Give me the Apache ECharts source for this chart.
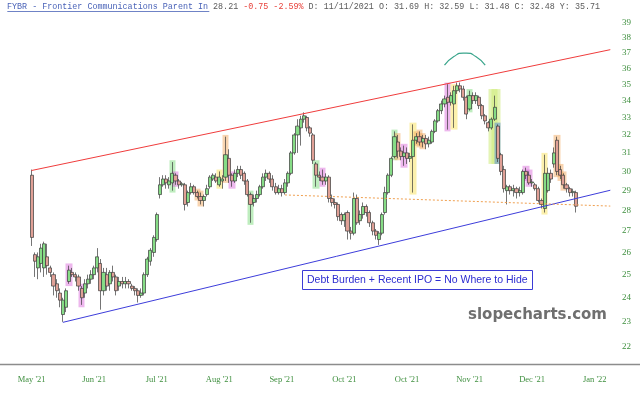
<!DOCTYPE html>
<html><head><meta charset="utf-8">
<script src="https://cdn.jsdelivr.net/npm/echarts@6/dist/echarts.min.js"></script>
<style>html,body{margin:0;padding:0;background:#fff}#c{width:640px;height:395px}</style>
</head><body><div id="c"></div>
<script>
// ---- data ----
const slotCount = 187; // trading-day slots on the axis (175 with data)
const xTickLabels = ["May '21","Jun '21","Jul '21","Aug '21","Sep '21","Oct '21","Oct '21","Nov '21","Dec '21","Jan '22"];
const yTickValues = [22,23,24,25,26,27,28,29,30,31,32,33,34,35,36,37,38,39];

const opens = [29.8,25.9,25.3,25.5,25.3,25.8,25.3,25.0,24.6,24.2,
23.3,23.6,24.7,25.1,25.0,24.9,24.4,24.2,24.6,24.8,
25.0,25.3,25.5,24.3,25.0,24.6,25.1,24.9,24.5,24.7,
24.6,24.7,24.5,24.4,24.3,24.1,24.2,25.0,25.6,26.0,
26.6,28.8,29.3,29.6,29.3,29.4,29.8,29.5,29.3,29.3,
28.4,28.9,29.2,28.9,28.7,28.5,28.8,29.2,29.6,29.7,
29.3,29.5,29.7,30.7,29.8,29.5,29.9,30.1,29.9,29.5,
28.8,28.4,28.6,28.8,29.2,29.7,29.9,29.6,29.2,28.9,
29.1,28.9,29.4,29.9,31.0,32.0,32.4,32.9,33.0,32.4,
32.0,30.4,29.8,29.7,29.5,29.7,28.6,28.4,28.3,27.8,
27.5,27.9,27.0,26.9,28.6,27.5,27.8,28.2,27.9,27.4,
27.0,26.6,26.9,27.9,28.9,29.8,30.8,31.6,31.1,30.8,
31.0,30.7,30.8,31.7,31.9,31.6,31.8,31.5,31.6,32.2,
32.8,33.4,33.8,34.2,33.9,33.8,34.6,34.9,34.7,34.2,
33.5,34.3,34.0,34.2,33.7,33.1,32.7,32.4,32.9,32.5,
30.9,30.1,29.0,29.2,29.0,29.1,28.9,28.9,30.0,29.8,
29.4,29.3,29.1,28.5,28.1,29.0,29.9,30.4,31.7,30.1,
29.8,29.3,29.1,28.9,28.9];
const closes = [26.7,25.6,25.8,26.2,26.4,25.4,25.1,24.5,24.3,23.9,
23.9,24.3,25.2,25.0,24.9,24.5,24.0,24.6,24.8,25.0,
25.3,25.8,24.3,25.1,24.5,25.1,24.9,24.3,24.7,24.6,
24.7,24.6,24.4,24.3,24.1,24.2,25.0,25.7,26.1,26.7,
27.8,29.3,29.6,29.4,29.5,29.9,29.5,29.3,29.35,28.3,
28.9,29.2,28.9,28.7,28.5,28.7,29.1,29.7,29.8,29.5,
29.7,29.6,30.9,29.8,29.5,29.9,30.1,29.8,29.5,28.8,
28.3,28.6,28.8,29.2,29.7,29.9,29.6,29.2,28.9,29.1,
28.9,29.4,29.9,31.0,32.0,32.5,32.9,33.1,32.4,32.1,
30.6,29.8,29.7,29.5,29.7,28.6,28.4,28.3,27.7,27.5,
27.8,27.0,26.9,28.6,27.4,27.8,28.2,27.9,27.4,27.0,
26.8,26.9,27.8,28.9,29.8,30.7,31.9,31.1,30.8,31.0,
30.7,30.8,31.7,31.9,31.6,31.8,31.5,31.7,32.2,32.8,
33.4,33.8,34.1,33.9,34.3,34.6,34.9,34.7,34.2,33.2,
34.3,34.0,34.3,33.7,33.1,32.8,32.4,32.9,33.6,30.7,
30.0,29.1,29.2,29.0,29.1,28.9,29.0,30.0,29.8,29.4,
29.45,29.1,28.5,28.3,29.9,29.9,29.6,31.0,30.0,29.8,
29.3,29.1,28.9,28.96,28.21];
const lows = [26.3,24.9,24.8,25.1,24.9,25.0,24.9,24.1,24.0,23.6,
23.0,23.4,24.6,24.9,24.7,24.3,23.7,24.0,24.4,24.6,
24.8,25.1,23.5,24.1,24.3,24.3,24.7,24.1,24.3,24.4,
24.4,24.4,24.3,24.1,23.8,24.0,24.1,24.9,25.4,25.8,
26.5,28.6,29.2,29.1,29.1,29.0,29.3,29.1,29.2,28.0,
28.2,28.8,28.8,28.6,28.3,28.2,28.7,29.1,29.5,29.4,
29.2,29.1,29.5,29.4,29.2,29.4,29.7,29.6,29.3,28.7,
27.4,28.2,28.4,28.7,29.1,29.5,29.4,29.0,28.8,28.8,
28.7,28.8,29.2,29.8,30.9,31.0,31.4,32.7,32.2,31.9,
30.4,29.2,29.5,29.3,29.3,28.4,28.2,28.1,27.5,27.3,
27.2,26.6,26.6,26.8,27.3,27.3,27.6,27.7,27.2,26.8,
26.6,26.35,26.8,27.8,28.8,29.7,30.7,30.7,30.6,30.3,
30.4,30.5,28.9,31.5,31.4,31.3,31.2,31.3,31.5,32.1,
32.7,33.2,33.6,32.3,33.7,32.4,34.4,34.5,34.0,32.9,
33.4,33.8,33.8,33.5,32.9,32.6,32.2,32.3,32.8,30.5,
29.8,28.9,28.3,28.8,28.7,28.6,28.7,28.8,29.6,29.3,
29.2,29.0,28.4,28.1,27.9,28.9,29.4,30.2,29.8,29.6,
29.1,28.9,28.7,28.7,27.9];
const highs = [30.1,26.0,26.0,26.4,26.5,26.4,25.4,25.1,24.8,24.4,
24.0,24.4,25.4,25.3,25.1,25.0,24.5,24.8,25.0,25.2,
25.4,26.2,25.7,25.3,25.3,25.2,25.4,25.0,24.9,24.9,
24.9,24.8,24.6,24.5,24.4,24.4,25.1,25.8,26.2,26.8,
27.9,29.7,29.8,29.8,29.7,30.5,29.9,29.6,29.45,29.4,
29.0,29.4,29.3,29.0,28.9,28.8,29.3,29.8,29.9,29.9,
30.0,29.8,31.9,31.2,29.9,30.1,30.3,30.3,30.0,29.6,
28.9,28.8,29.0,29.3,29.9,30.1,30.0,29.8,29.4,29.3,
29.3,29.6,30.0,31.1,32.1,32.9,33.1,33.3,33.1,32.5,
32.1,30.5,30.0,30.1,29.9,29.8,28.8,28.6,28.4,27.9,
27.9,28.0,27.2,28.9,28.8,28.0,28.4,28.3,28.0,27.5,
27.1,27.0,27.9,29.2,29.9,30.8,32.2,32.0,31.3,31.4,
31.3,31.0,32.6,32.1,32.2,32.0,32.0,31.9,32.3,32.9,
33.5,34.0,34.3,35.0,34.5,34.9,35.1,35.1,34.9,34.3,
34.6,34.5,34.5,34.3,33.8,33.2,32.8,33.0,34.3,32.6,
31.0,30.3,29.3,29.3,29.3,29.2,29.2,30.1,30.2,30.0,
29.6,29.4,29.2,28.6,30.9,30.2,30.1,31.3,31.9,30.3,
29.9,29.4,29.2,29.1,29.0];

// pattern highlight boxes: slot index, low price, high price, colour key
const hlIndex = [12,16,45,46,53,54,60,62,64,70,91,93,116,117,119,122,123,124,125,133,135,140,147,148,149,149,158,159,164,168,169,170];
const hlLow   = [24.5,23.6,28.9,29.2,28.5,28.2,29.1,29.4,29.1,27.3,29.1,29.2,30.6,30.6,30.2,28.8,31.4,31.3,31.2,32.2,32.3,33.3,30.4,30.4,30.4,30.4,29.5,29.2,27.8,29.7,29.5,29.0];
const hlHigh  = [25.5,24.6,30.6,30.0,29.1,29.0,30.1,32.0,30.0,29.0,30.6,30.2,32.3,32.1,31.5,32.7,32.2,32.3,32.1,35.1,35.0,34.7,34.7,34.7,34.7,32.7,30.3,30.1,31.0,32.0,30.4,30.0];
const hlKind  = ['pink','pink','green','pink','orange','orange','yellow','orange','pink','green','green','pink','green','orange','pink','yellow','orange','orange','orange','pink','yellow','green','ygreen','ygreen','ygreen','blue','pink','pink','yellow','orange','orange','orange'];

// trend lines drawn on the chart: [slot index, price]
const resistanceLine = [[0, 30.05], [185, 37.2]];
const supportLine = [[10, 22.98], [185, 29.02]];
const breakLine = [[81, 28.78], [185, 28.22]];
const arcLine = [[132, 36.2], [135, 36.75], [138, 36.97], [139, 36.97], [142, 36.75], [145, 36.2]];

// ---- build ----
const hlColors = {
  pink: 'rgba(214,96,214,0.45)', green: 'rgba(110,215,110,0.45)', orange: 'rgba(240,160,80,0.45)',
  yellow: 'rgba(250,225,90,0.5)', ygreen: 'rgba(205,235,120,0.55)', blue: 'rgba(90,140,210,0.55)'
};
const categories = Array.from({length: slotCount}, (_, i) => String(i));
const ohlc = opens.map((o, i) => [o, closes[i], lows[i], highs[i]]);
const hlData = hlIndex.map((idx, k) => ({
  value: [idx, hlLow[k], hlHigh[k], hlLow[k], hlHigh[k]],
  itemStyle: {color: hlColors[hlKind[k]], color0: hlColors[hlKind[k]], borderWidth: 0, borderColor: 'rgba(0,0,0,0)', borderColor0: 'rgba(0,0,0,0)'}
}));

const green = '#3f8f3f';
const chart = echarts.init(document.getElementById('c'), null, {renderer: 'canvas'});
const mono = {fontFamily: "'Liberation Mono', 'Courier New', monospace", fontSize: 8.4};
chart.setOption({
  animation: false,
  backgroundColor: '#fff',
  title: [
    {
      left: 7, top: 2, padding: 0,
      text: '{a|FYBR - Frontier Communications Parent In} {b|28.21} {c|-0.75 -2.59%} {b|D: 11/11/2021 O: 31.69 H: 32.59 L: 31.48 C: 32.48 Y: 35.71}',
      textStyle: Object.assign({color: '#555', fontWeight: 'normal', lineHeight: 10, rich: {
        a: Object.assign({color: '#4a63b8'}, mono),
        b: Object.assign({color: '#5a5a5a'}, mono),
        c: Object.assign({color: '#e8403a'}, mono)
      }}, mono)
    },
    {
      left: 302, top: 270, padding: [4, 5, 4, 5],
      text: 'Debt Burden + Recent IPO = No Where to Hide',
      borderColor: '#3b3bd6', borderWidth: 1, backgroundColor: '#fff',
      textStyle: {color: '#2c2cd0', fontSize: 10.5, fontWeight: 'normal', lineHeight: 12, fontFamily: "'Liberation Sans', Arial, sans-serif"}
    },
    {
      left: 468, top: 308, padding: 0,
      text: 'slopecharts.com',
      textStyle: {color: '#6f6f6f', fontSize: 15, fontWeight: 'bold', fontFamily: "'DejaVu Sans', sans-serif"}
    }
  ],
  grid: {left: 30, right: 25, top: 10, bottom: 31},
  xAxis: {
    type: 'category', data: categories, boundaryGap: true,
    axisLine: {show: false}, axisTick: {show: false}, splitLine: {show: false},
    axisLabel: {
      interval: 19, margin: 11, color: green, fontSize: 8.5,
      fontFamily: "'Liberation Serif', 'Times New Roman', serif",
      formatter: (v, idx) => (idx % 20 === 0 ? (xTickLabels[idx / 20] || '') : '')
    }
  },
  yAxis: {
    type: 'log', logBase: 10, position: 'right', min: 21.35, max: 39.9,
    axisLine: {show: false}, axisTick: {show: false}, splitLine: {show: false},
    axisLabel: {
      customValues: yTickValues, margin: 7, color: green, fontSize: 9,
      fontFamily: "'Liberation Serif', 'Times New Roman', serif",
      formatter: v => String(Math.round(v))
    }
  },
  graphic: [
    {type: 'line', shape: {x1: 7.3, y1: 11.5, x2: 209.3, y2: 11.5}, style: {stroke: '#4a63b8', lineWidth: 0.8}, silent: true},
    {type: 'line', shape: {x1: 0, y1: 364.5, x2: 640, y2: 364.5}, style: {stroke: '#8c8c8c', lineWidth: 1.5}, silent: true}
  ],
  series: [
    {
      type: 'candlestick', name: 'highlights', data: hlData, barWidth: 7, z: 1, silent: true,
      encode: {x: 0, y: [1, 2, 3, 4]}
    },
    {
      type: 'candlestick', name: 'FYBR', data: ohlc, barWidth: 3.6, z: 2,
      itemStyle: {color: '#86dc86', color0: '#e0a096', borderColor: '#3a3a3a', borderColor0: '#3a3a3a', borderWidth: 0.7}
    },
    {type: 'line', data: resistanceLine, symbol: 'none', z: 3, silent: true, lineStyle: {color: '#f03c3c', width: 1}},
    {type: 'line', data: supportLine, symbol: 'none', z: 3, silent: true, lineStyle: {color: '#3d3ddb', width: 1}},
    {type: 'line', data: breakLine, symbol: 'none', z: 3, silent: true, lineStyle: {color: '#f0a050', width: 1, type: [2, 2]}},
    {type: 'line', data: arcLine, symbol: 'none', z: 3, silent: true, smooth: 0.6, lineStyle: {color: '#3aa58c', width: 1.2}}
  ]
});
</script>
</body></html>
